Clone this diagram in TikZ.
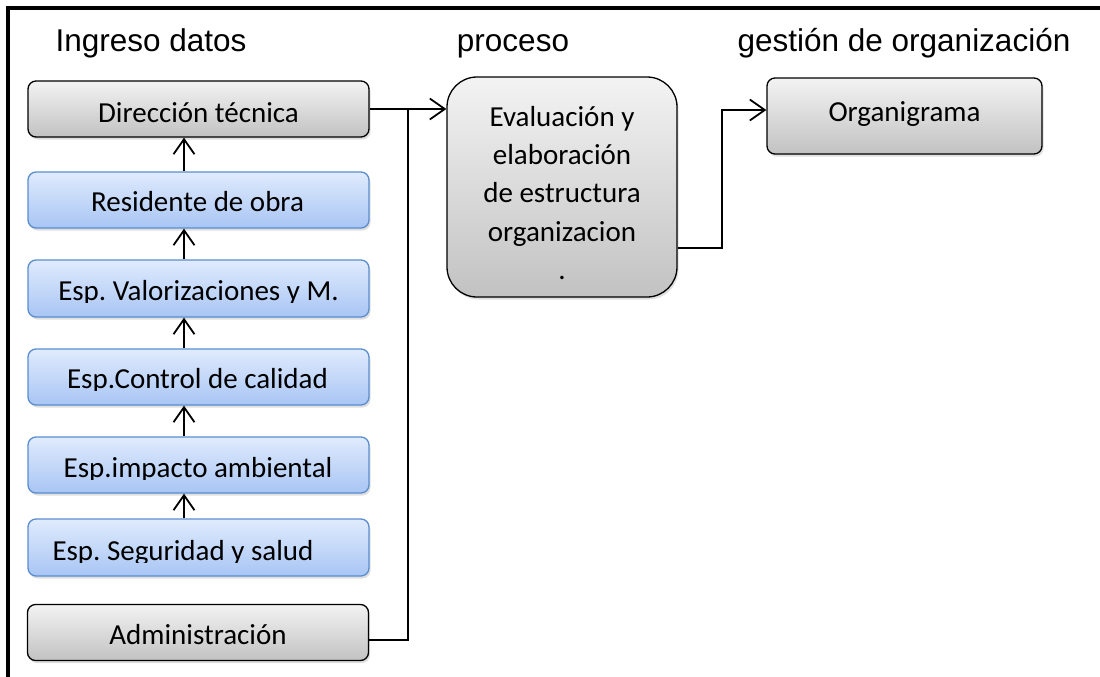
\documentclass[tikz,border=0pt]{standalone}
\usepackage{fontspec}
\setmainfont{Carlito}
\newfontfamily\titlefont{Liberation Sans}
\usetikzlibrary{arrows.meta,shadows}
\definecolor{grayA}{HTML}{F3F3F3}
\definecolor{grayB}{HTML}{C2C2C2}
\definecolor{blueA}{HTML}{E0EBFD}
\definecolor{blueB}{HTML}{A8C5F4}
\definecolor{blueLine}{HTML}{5A8DD0}
\frenchspacing
\newcommand\cliptext[6]{%
  \begin{scope}
    \clip (#1.north west) rectangle ([yshift=-#5pt]#1.east);
    \node[boxtext, anchor=base] (#2) at ([xshift=#3pt, yshift=-#4pt]#1.center) {#6};
  \end{scope}}
\begin{document}
\begin{tikzpicture}[x=1pt,y=-1pt,
  box/.style={rounded corners=8pt, minimum width=341pt, minimum height=56pt, inner sep=0pt,
    line width=1.3pt, drop shadow={opacity=0.25, shadow xshift=1.5pt, shadow yshift=-2.5pt}},
  graybox/.style={box, draw=black, top color=grayA, bottom color=grayB},
  bluebox/.style={box, draw=blueLine, top color=blueA, bottom color=blueB},
  boxtext/.style={font=\fontsize{29}{35}\selectfont, inner sep=0pt},
  titletext/.style={font=\titlefont\fontsize{31.5}{38}\selectfont, inner sep=0pt, anchor=base},
  conn/.style={line width=1.8pt, draw=black},
  arr/.style={conn, -{Straight Barb[length=15pt, width=21pt]}}
]
\useasboundingbox (0,0) rectangle (1100,677);
% outer frame
\draw[line width=3.5pt] (8,677) -- (8,8) -- (1100,8);

% titles
\node[titletext] (t1) at (151,52) {Ingreso datos};
\node[titletext] (t2) at (513,52) {proceso};
\node[titletext] (t3) at (904,52) {gestión de organización};

% left column
\node[graybox, boxtext, text height=30pt, text depth=2.6pt] (dir) at (198.5,109) {Dirección técnica};
\node[bluebox] (res) at (198.5,200) {};
\node[bluebox, minimum height=57pt] (val) at (198.5,288.5) {};
\node[bluebox] (ctl) at (198.5,377) {};
\node[bluebox] (imp) at (198.5,465) {};
\node[bluebox, minimum height=57pt] (seg) at (198.5,547.5) {};
\node[graybox, boxtext, text height=26pt, text depth=3pt] (adm) at (198,632.5) {Administración};

\cliptext{res}{restx}{-1}{11.7}{14}{Residente de obra}
\cliptext{val}{valtx}{0}{12.2}{14}{Esp. Valorizaciones y M.}
\cliptext{ctl}{ctltx}{-1}{11}{13}{Esp.Control de calidad}
\cliptext{imp}{imptx}{-0.5}{12.7}{14.5}{Esp.impacto ambiental}
\cliptext{seg}{segtx}{-15.5}{12.5}{14.5}{Esp. Seguridad y salud}

% process
\node[graybox, rounded corners=30pt, minimum width=230pt, minimum height=220pt,
      boxtext, align=center, font=\fontsize{29}{38.3}\selectfont] (proc) at (562,187)
  {\rule{0pt}{32pt}Evaluación y\\elaboración\\de estructura\\organizacion\\.};

% result
\node[graybox, minimum width=275pt, minimum height=76pt, boxtext,
      text height=14pt, text depth=2.6pt] (org) at (904.5,116) {Organigrama};

% vertical arrows
\foreach \lo/\up in {res/dir, val/res, ctl/val, imp/ctl, seg/imp}
  \draw[arr] ([xshift=-14.5pt]\lo.north) -- ([xshift=-14.5pt]\up.south);

% connectors to process
\coordinate (j1) at (408,109);
\draw[arr] (dir.east) -- (proc.west |- dir.east);
\draw[conn] ([yshift=-7.5pt]adm.east) -| (j1);

% process to organigrama
\coordinate (j2) at (722,110);
\draw[arr] ([yshift=-61pt]proc.east) -| (j2) -- (org.west |- j2);
\end{tikzpicture}
\end{document}
